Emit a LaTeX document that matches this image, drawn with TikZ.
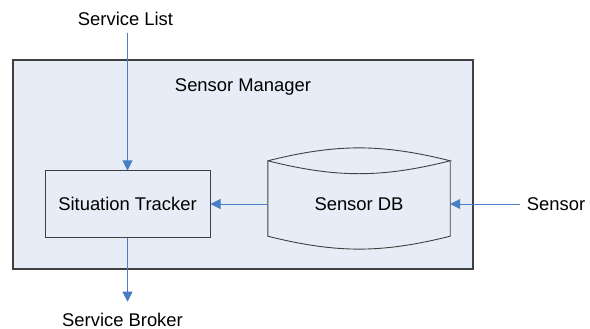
\documentclass[tikz,border=0pt]{standalone}
\usepackage{fontspec}
\setmainfont{Liberation Sans}
\usepackage{tikz}
\usetikzlibrary{arrows.meta, positioning}
\definecolor{fundoGerente}{RGB}{231, 237, 247}
\definecolor{azulSeta}{RGB}{74, 126, 196}
\definecolor{bordaCinza}{RGB}{64, 64, 64}

\begin{document}
\begin{tikzpicture}[
            x=1pt, y=-1pt,
            every node/.style={font=\fontsize{18.4}{22}\selectfont, align=center},
            box/.style={rectangle, draw=bordaCinza, line width=1pt, fill=fundoGerente},
            io/.style={inner sep=0pt, outer sep=7pt},
            arrow/.style={-{Triangle[length=10pt, width=10pt]}, line width=0.9pt, draw=azulSeta}
        ]
            \useasboundingbox (0,0) rectangle (590,329);
            \node[box, line width=1.5pt, minimum width=460pt, minimum height=209pt] (manager) at (242.75,164.5) {};
            \node (managerlabel) at (243,87) {Sensor Manager};
            \node[box, minimum width=165pt, minimum height=66pt] (tracker) at (127.5,204) {Situation Tracker};
            \node[minimum width=182pt, minimum height=64pt] (db) at (359,204) {Sensor DB};
            % cylinder outline of the database
            \draw[draw=bordaCinza, line width=0.9pt]
                ([yshift=11pt]db.north west) to[bend left=14] ([yshift=11pt]db.north east)
                to[bend left=14] ([yshift=11pt]db.north west) -- (db.south west)
                to[bend right=14] (db.south east) -- ([yshift=11pt]db.north east);
            \node[io] (list) at (125.5,19) {Service List};
            \node[io] (broker) at (122.5,319.5) {Service Broker};
            \node[io] (sensor) at (556,204) {Sensor};
            \draw[arrow] (list.south -| tracker) -- (tracker.north);
            \draw[arrow] (sensor) -- (db.east);
            \draw[arrow] (db.west) -- (tracker.east);
            \draw[arrow, shorten >=4pt] (tracker.south) -- (tracker |- broker.north);
        \end{tikzpicture}
\end{document}
